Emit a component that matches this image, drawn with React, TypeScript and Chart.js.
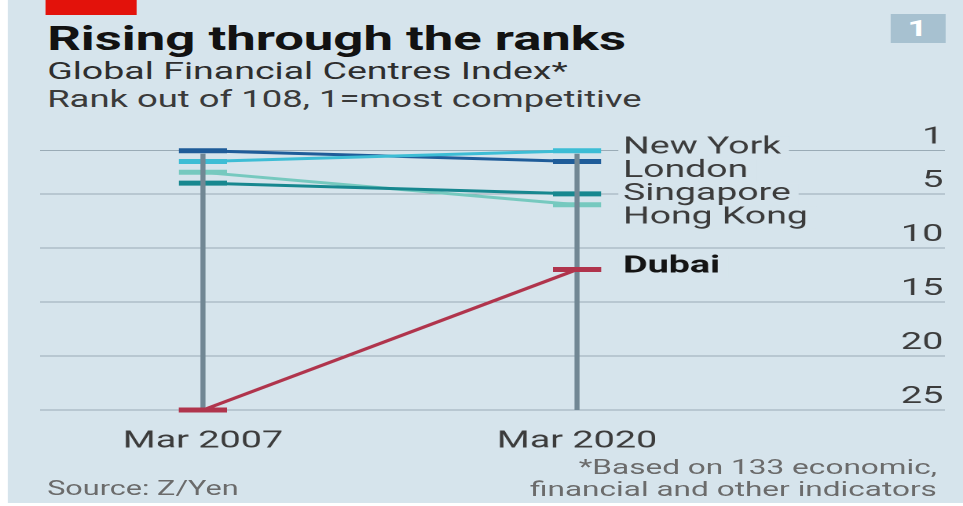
import React, { useEffect, useRef } from "react";
import { Chart, registerables } from "chart.js";

Chart.register(...registerables);

// ---- data ----
const periods = ["Mar 2007", "Mar 2020"];
const cities = ["New York", "London", "Singapore", "Hong Kong", "Dubai"];
const rank2007 = [2, 1, 4, 3, 25];
const rank2020 = [1, 2, 5, 6, 12];
const cityColors = ["#3dbdd5", "#1f5c99", "#17878f", "#76c9bf", "#b0344c"];
const highlighted = ["Dubai"];
const yTicks = [1, 5, 10, 15, 20, 25];

// ---- layout constants ----
const W = 613;
const H = 506;
const K = 963 / W;
const BG = "#d6e4ec";
const FONT = "Roboto, 'Noto Sans', sans-serif";

const labelPlugin = {
  id: "cityLabels",
  afterDatasetsDraw(chart: any) {
    const ctx = chart.ctx;
    const xs = chart.scales.x;
    const ys = chart.scales.y;
    const items = cities
      .map((c, i) => ({ c, i, y: ys.getPixelForValue(rank2020[i]), ly: 0 }))
      .sort((a, b) => a.y - b.y);
    let prev = -Infinity;
    for (const it of items) {
      it.ly = Math.max(it.y, prev + 23.3);
      prev = it.ly;
    }
    const x = xs.getPixelForValue(1) + 29.3;
    ctx.save();
    for (const it of items) {
      const bold = highlighted.includes(it.c);
      ctx.font = `${bold ? "bold " : ""}${bold ? 24 : 23.8}px ${FONT}`;
      ctx.textBaseline = "middle";
      ctx.textAlign = "left";
      const w = ctx.measureText(it.c).width;
      const y = it.ly - 3;
      ctx.fillStyle = BG;
      ctx.fillRect(x - 3, y - 11, w + 8, 22);
      ctx.fillStyle = bold ? "#141414" : "#3c3c3c";
      ctx.fillText(it.c, x, y);
    }
    ctx.restore();
  },
};

export default function App() {
  const ref = useRef<HTMLCanvasElement | null>(null);

  useEffect(() => {
    if (!ref.current) return;
    Chart.defaults.font.family = FONT;
    const chart = new Chart(ref.current, {
      type: "line",
      data: {
        datasets: cities.map((c, i) => ({
          label: c,
          data: [
            { x: 0, y: rank2007[i] },
            { x: 1, y: rank2020[i] },
          ],
          borderColor: cityColors[i],
          backgroundColor: cityColors[i],
          borderWidth: 3,
          pointStyle: "line",
          pointRadius: 15.3,
          pointBorderWidth: 5,
          pointBorderColor: cityColors[i],
          pointHoverRadius: 15.3,
          clip: false as any,
          tension: 0,
        })),
      },
      options: {
        animation: false,
        responsive: false,
        maintainAspectRatio: false,
        devicePixelRatio: 2,
        events: [],
        layout: {
          autoPadding: false,
          padding: { left: 25.5, right: 11.5, top: 150.7, bottom: 0 },
        },
        plugins: {
          legend: { display: false },
          tooltip: { enabled: false },
          title: { display: false },
        },
        scales: {
          x: {
            type: "linear",
            min: -0.4355,
            max: 1.9836,
            afterBuildTicks: (s: any) => {
              s.ticks = periods.map((_, i) => ({ value: i }));
            },
            afterFit: (s: any) => {
              s.height = 96;
            },
            grid: { color: "#71879450", lineWidth: 0 },
            border: { display: false },
            ticks: {
              padding: 9,
              color: "#3c3c3c",
              maxRotation: 0,
              autoSkip: false,
              font: { family: FONT, size: 24 },
              callback: (v: any) => periods[Number(v)] ?? "",
            },
          },
          y: {
            type: "linear",
            position: "right",
            reverse: true,
            min: 1,
            max: 25,
            afterBuildTicks: (s: any) => {
              s.ticks = yTicks.map((v) => ({ value: v }));
            },
            afterFit: (s: any) => {
              s.width = 0;
            },
            grid: { color: "#9aabb6", lineWidth: 1, drawTicks: false },
            border: { display: false },
            ticks: {
              mirror: true,
              padding: -1,
              labelOffset: -13,
              color: "#3c3c3c",
              font: { family: FONT, size: 24 },
              callback: (v: any) => String(v),
            },
          },
        },
      },
      plugins: [
        {
          id: "periodBars",
          // vertical bars at each period, drawn over the markers like the reference
          afterDatasetsDraw(chart: any) {
            const { ctx, chartArea, scales } = chart;
            ctx.save();
            ctx.strokeStyle = "#718794";
            ctx.lineWidth = 3.2;
            periods.forEach((_, i) => {
              const x = scales.x.getPixelForValue(i);
              ctx.beginPath();
              ctx.moveTo(x, chartArea.top + 3);
              ctx.lineTo(x, chartArea.bottom);
              ctx.stroke();
            });
            ctx.restore();
            // redraw Dubai markers on top (they cover the bars in the reference)
            const di = cities.indexOf("Dubai");
            const meta = chart.getDatasetMeta(di);
            meta.data.forEach((pt: any) => pt.draw(ctx, chartArea));
          },
        },
        labelPlugin,
      ],
    } as any);
    return () => chart.destroy();
  }, []);

  const text = (extra: React.CSSProperties): React.CSSProperties => ({
    position: "absolute",
    whiteSpace: "nowrap",
    fontFamily: FONT,
    margin: 0,
    ...extra,
  });

  return (
    <div
      style={{
        position: "absolute",
        left: 0,
        top: 0,
        width: 963,
        height: H,
        overflow: "hidden",
        background: "#ffffff",
      }}
    >
      <div
        style={{
          position: "relative",
          width: W,
          height: H,
          transform: `scaleX(${K})`,
          transformOrigin: "0 0",
        }}
      >
        <div style={{ position: "absolute", left: 5, top: 0, width: W - 5, height: 503, background: BG }} />
        <div style={{ position: "absolute", left: 28.6, top: 0, width: 58, height: 15, background: "#e3120b" }} />
        <div
          style={{
            position: "absolute",
            left: 566.5,
            top: 14,
            width: 35,
            height: 29,
            background: "#a7c1d0",
            color: "#ffffff",
            fontFamily: FONT,
            fontWeight: 700,
            fontSize: 22,
            lineHeight: "29px",
            textAlign: "center",
          }}
        >
          1
        </div>
        <div style={text({ left: 30, top: 22, fontSize: 33.5, lineHeight: "33.5px", fontWeight: 700, color: "#121212" })}>
          Rising through the ranks
        </div>
        <div style={text({ left: 30, top: 60, fontSize: 23.9, lineHeight: "23.9px", color: "#2e2e2e" })}>
          Global Financial Centres Index*
        </div>
        <div style={text({ left: 30, top: 88, fontSize: 23.2, lineHeight: "23.2px", color: "#3a3a3a" })}>
          Rank out of 108, 1=most competitive
        </div>
        <canvas
          ref={ref}
          width={W}
          height={H}
          style={{ position: "absolute", left: 0, top: 0, width: W, height: H }}
        />
        <div style={text({ left: 30, top: 478.6, fontSize: 19.5, lineHeight: "19.5px", color: "#6b6b6b" })}>
          Source: Z/Yen
        </div>
        <div
          style={text({
            right: 16.6,
            top: 456.3,
            fontSize: 20.1,
            lineHeight: "22px",
            color: "#6b6b6b",
            textAlign: "right",
          })}
        >
          *Based on 133 economic,
          <br />
          financial and other indicators
        </div>
      </div>
    </div>
  );
}
